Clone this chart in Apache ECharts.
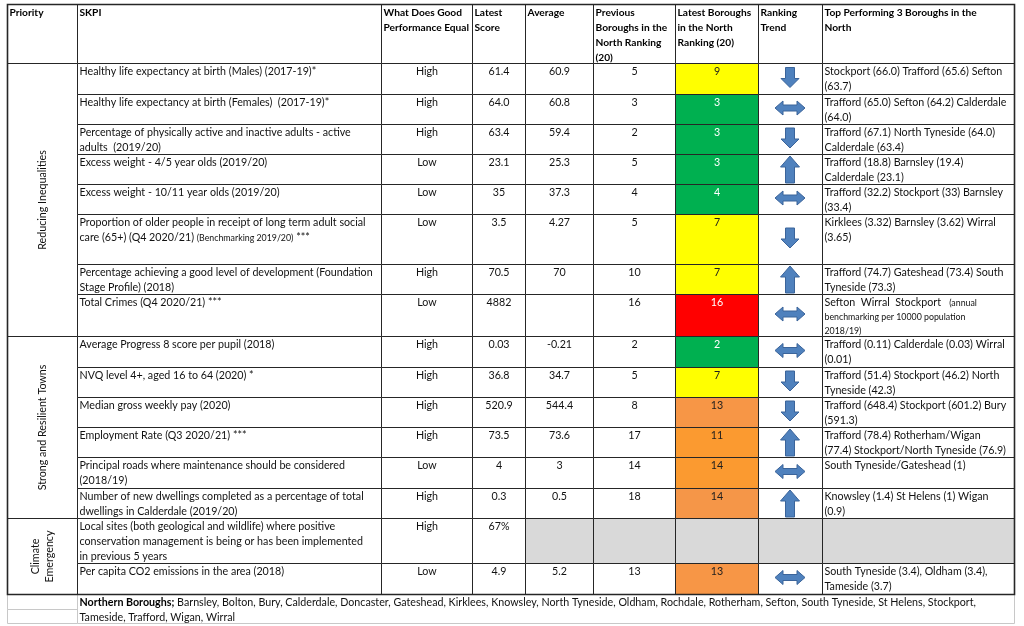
<!DOCTYPE html>
<html><head><meta charset="utf-8">
<script src="https://cdn.jsdelivr.net/npm/echarts@6/dist/echarts.min.js"></script>
<style>html,body{margin:0;padding:0;background:#fff}#c{width:1024px;height:626px}</style>
</head><body><div id="c"></div>
<script>
// ---------------- DATA ----------------
const headers = ['Priority', 'SKPI', 'What Does Good\nPerformance Equal', 'Latest\nScore', 'Average',
  'Previous\nBoroughs in the\nNorth Ranking\n(20)', 'Latest Boroughs\nin the North\nRanking (20)',
  'Ranking\nTrend', 'Top Performing 3 Boroughs in the\nNorth'];
const priorities = ['Reducing Inequalities', 'Strong and Resilient Towns', 'Climate\nEmergency'];
const priorityRowCounts = [8, 6, 2];
const skpi = [
  'Healthy life expectancy at birth (Males) (2017-19)*',
  'Healthy life expectancy at birth (Females)  (2017-19)*',
  'Percentage of physically active and inactive adults - active\nadults  (2019/20)',
  'Excess weight - 4/5 year olds (2019/20)',
  'Excess weight - 10/11 year olds (2019/20)',
  'Proportion of older people in receipt of long term adult social\ncare (65+) (Q4 2020/21) {s|(Benchmarking 2019/20)} ***',
  'Percentage achieving a good level of development (Foundation\nStage Profile) (2018)',
  'Total Crimes (Q4 2020/21) ***',
  'Average Progress 8 score per pupil (2018)',
  'NVQ level 4+, aged 16 to 64 (2020) *',
  'Median gross weekly pay (2020)',
  'Employment Rate (Q3 2020/21) ***',
  'Principal roads where maintenance should be considered\n(2018/19)',
  'Number of new dwellings completed as a percentage of total\ndwellings in Calderdale (2019/20)',
  'Local sites (both geological and wildlife) where positive\nconservation management is being or has been implemented\nin previous 5 years',
  'Per capita CO2 emissions in the area (2018)'
];
const goodPerformance = ['High','High','High','Low','Low','Low','High','Low','High','High','High','High','Low','High','High','Low'];
const latestScore = ['61.4','64.0','63.4','23.1','35','3.5','70.5','4882','0.03','36.8','520.9','73.5','4','0.3','67%','4.9'];
const average = ['60.9','60.8','59.4','25.3','37.3','4.27','70','','-0.21','34.7','544.4','73.6','3','0.5','','5.2'];
const previousRank = [5,3,2,5,4,5,10,16,2,5,8,17,14,18,null,13];
const latestRank = [9,3,3,3,4,7,7,16,2,7,13,11,14,14,null,13];
const rankingTrend = ['down','both','down','up','both','down','up','both','both','down','down','up','both','up',null,'both'];
const topBoroughs = [
  'Stockport (66.0) Trafford (65.6) Sefton\n(63.7)',
  'Trafford (65.0) Sefton (64.2) Calderdale\n(64.0)',
  'Trafford (67.1) North Tyneside (64.0)\nCalderdale (63.4)',
  'Trafford (18.8) Barnsley (19.4)\nCalderdale (23.1)',
  'Trafford (32.2) Stockport (33) Barnsley\n(33.4)',
  'Kirklees (3.32) Barnsley (3.62) Wirral\n(3.65)',
  'Trafford (74.7) Gateshead (73.4) South\nTyneside (73.3)',
  'Sefton  Wirral  Stockport   {s|(annual}\n{s|benchmarking per 10000 population}\n{s|2018/19)}',
  'Trafford (0.11) Calderdale (0.03) Wirral\n(0.01)',
  'Trafford (51.4) Stockport (46.2) North\nTyneside (42.3)',
  'Trafford (648.4) Stockport (601.2) Bury\n(591.3)',
  'Trafford (78.4) Rotherham/Wigan\n(77.4) Stockport/North Tyneside (76.9)',
  'South Tyneside/Gateshead (1)',
  'Knowsley (1.4) St Helens (1) Wigan\n(0.9)',
  '',
  'South Tyneside (3.4), Oldham (3.4),\nTameside (3.7)'
];
const footnote = '{b|Northern Boroughs;} Barnsley, Bolton, Bury, Calderdale, Doncaster, Gateshead, Kirklees, Knowsley, North Tyneside, Oldham, Rochdale, Rotherham, Sefton, South Tyneside, St Helens, Stockport,\nTameside, Trafford, Wigan, Wirral';

// ---------------- LAYOUT & STYLE ----------------
const colEdges = [7, 77, 381, 472, 525, 593, 675, 758, 822, 1014];
const tableTop = 4;
const rowEdges = [63, 94, 124, 154, 184, 214, 264, 294, 336, 367, 397, 427, 457, 488, 518, 563, 594];
const footerBottom = 623;
const FONT = 'Lato, "Open Sans", sans-serif';
const FS = 10.7, HFS = 10.2, LH = 15;
const TEXT = '#111', LINE = '#262626';
const GREY = '#D9D9D9';
const rankFillStyle = ['#FFFF00','#00B050','#00B050','#00B050','#00B050','#FFFF00','#FFFF00','#FF0000','#00B050','#FFFF00','#F79646','#FB9A30','#FB9A30','#F59648',GREY,'#F79646'];
const rankTextStyle = ['#1e1e1e','#ffffff','#ffffff','#ffffff','#ffffff','#1e1e1e','#1e1e1e','#ffffff','#ffffff','#1e1e1e','#1e1e1e','#1e1e1e','#1e1e1e','#1e1e1e','#1e1e1e','#1e1e1e'];
const richStyles = {
  s: { fontSize: 8.8, fontFamily: FONT, fill: TEXT, lineHeight: 14 },
  b: { fontSize: FS, fontWeight: 'bold', fontFamily: FONT, fill: '#000', lineHeight: LH }
};

// ---------------- BUILD CELLS ----------------
const cells = [];
function addCell(c0, c1, y0, y1, o) {
  cells.push(Object.assign({ x0: colEdges[c0], x1: colEdges[c1], y0, y1, fill: '#fff', text: '', align: 'left', bold: false, stroke: LINE }, o));
}
headers.forEach((h, i) => addCell(i, i + 1, tableTop, rowEdges[0], { text: h, bold: true }));
let r0 = 0;
priorities.forEach((p, i) => {
  const r1 = r0 + priorityRowCounts[i];
  addCell(0, 1, rowEdges[r0], rowEdges[r1], { text: p, align: 'rot' });
  r0 = r1;
});
skpi.forEach((s, r) => {
  const y0 = rowEdges[r], y1 = rowEdges[r + 1];
  const gray = latestRank[r] === null;
  addCell(1, 2, y0, y1, { text: s });
  addCell(2, 3, y0, y1, { text: goodPerformance[r], align: 'center' });
  addCell(3, 4, y0, y1, { text: latestScore[r], align: 'center' });
  addCell(4, 5, y0, y1, { text: average[r], align: 'center', fill: gray ? GREY : '#fff' });
  addCell(5, 6, y0, y1, { text: previousRank[r] === null ? '' : String(previousRank[r]), align: 'center', fill: gray ? GREY : '#fff' });
  addCell(6, 7, y0, y1, { text: latestRank[r] === null ? '' : String(latestRank[r]), align: 'center', fill: rankFillStyle[r], color: rankTextStyle[r] });
  addCell(7, 8, y0, y1, { fill: gray ? GREY : '#fff' });
  addCell(8, 9, y0, y1, { text: topBoroughs[r], fill: gray ? GREY : '#fff' });
});
// footer
const fy0 = rowEdges[rowEdges.length - 1];
addCell(0, 1, fy0, (fy0 + footerBottom) / 2, { stroke: '#c8c8c8' });
addCell(0, 1, (fy0 + footerBottom) / 2, footerBottom, { stroke: '#c8c8c8' });
addCell(1, 9, fy0, footerBottom, { text: footnote, stroke: '#c8c8c8' });

// arrows
const arrowData = [];
rankingTrend.forEach((t, r) => {
  if (!t) return;
  arrowData.push({ value: [(colEdges[7] + colEdges[8]) / 2, rowEdges[r], rowEdges[r + 1]], kind: t });
});

function snap(v) { return Math.round(v) + 0.5; }

function renderCell(params, api) {
  const c = cells[params.dataIndex];
  const p0 = api.coord([api.value(0), api.value(1)]);
  const p1 = api.coord([api.value(2), api.value(3)]);
  const x0 = snap(p0[0]), y0 = snap(p0[1]), x1 = snap(p1[0]), y1 = snap(p1[1]);
  const children = [{
    type: 'rect', shape: { x: x0, y: y0, width: x1 - x0, height: y1 - y0 },
    style: { fill: c.fill, stroke: c.stroke, lineWidth: 1 }, z2: c.stroke === LINE ? 2 : 1
  }];
  if (c.text) {
    const font = (c.bold ? 'bold ' + HFS : FS) + 'px ' + FONT;
    if (c.align === 'rot') {
      children.push({
        type: 'text', x: (x0 + x1) / 2, y: (y0 + y1) / 2, rotation: Math.PI / 2, z2: 5,
        style: { text: c.text, font, fill: TEXT, align: 'center', verticalAlign: 'middle', lineHeight: 14 }
      });
    } else {
      const tx = c.align === 'center' ? (x0 + x1) / 2 : x0 + 2;
      children.push({
        type: 'text', x: tx, y: y0 + 1, z2: 5,
        style: { text: c.text, font, fill: c.color || (c.bold ? '#000' : TEXT), align: c.align, verticalAlign: 'top', lineHeight: LH, rich: richStyles }
      });
    }
  }
  return { type: 'group', children };
}

function renderArrow(params, api) {
  const kind = arrowData[params.dataIndex].kind;
  const cx = api.coord([api.value(0), api.value(1)])[0];
  const top = api.coord([api.value(0), api.value(1)])[1];
  const bot = api.coord([api.value(0), api.value(2)])[1];
  const cy = (top + bot) / 2 - 1;
  let pts;
  if (kind === 'down') {
    const t = cy - 10, b = cy + 10, hs = cy + 1;
    pts = [[cx - 4.5, t], [cx + 4.5, t], [cx + 4.5, hs], [cx + 9, hs], [cx, b], [cx - 9, hs], [cx - 4.5, hs]];
  } else if (kind === 'up') {
    const t = top + 2, b = bot - 1, hs = t + 11;
    pts = [[cx, t], [cx + 9.5, hs], [cx + 4.5, hs], [cx + 4.5, b], [cx - 4.5, b], [cx - 4.5, hs], [cx - 9.5, hs]];
  } else {
    const l = cx - 15, r = cx + 15;
    pts = [[l, cy], [l + 8, cy - 7], [l + 8, cy - 3], [r - 8, cy - 3], [r - 8, cy - 7], [r, cy], [r - 8, cy + 7], [r - 8, cy + 3], [l + 8, cy + 3], [l + 8, cy + 7]];
  }
  return { type: 'polygon', shape: { points: pts }, style: { fill: '#4F81BD', stroke: '#3B649A', lineWidth: 1 }, z2: 10 };
}

const chart = echarts.init(document.getElementById('c'), null, { renderer: 'canvas' });
chart.setOption({
  animation: false,
  backgroundColor: '#fff',
  grid: { left: 0, right: 0, top: 0, bottom: 0 },
  xAxis: { type: 'value', min: 0, max: 1024, show: false },
  yAxis: { type: 'value', min: 0, max: 626, inverse: true, show: false },
  series: [
    { type: 'custom', coordinateSystem: 'cartesian2d', clip: false, silent: true, renderItem: renderCell,
      data: cells.map(c => [c.x0, c.y0, c.x1, c.y1]), z: 1 },
    { type: 'custom', coordinateSystem: 'cartesian2d', clip: false, silent: true, renderItem: renderArrow,
      data: arrowData, z: 3 },
    { type: 'custom', coordinateSystem: 'cartesian2d', clip: false, silent: true, z: 4,
      renderItem: function (params, api) {
        const p0 = api.coord([api.value(0), api.value(1)]);
        const p1 = api.coord([api.value(2), api.value(3)]);
        return { type: 'rect', shape: { x: snap(p0[0]), y: snap(p0[1]), width: Math.round(p1[0] - p0[0]), height: Math.round(p1[1] - p0[1]) },
          style: { fill: 'none', stroke: LINE, lineWidth: 1.6 } };
      },
      data: [[colEdges[0], tableTop, colEdges[colEdges.length - 1], rowEdges[rowEdges.length - 1]]] }
  ]
});
</script>
</body></html>
